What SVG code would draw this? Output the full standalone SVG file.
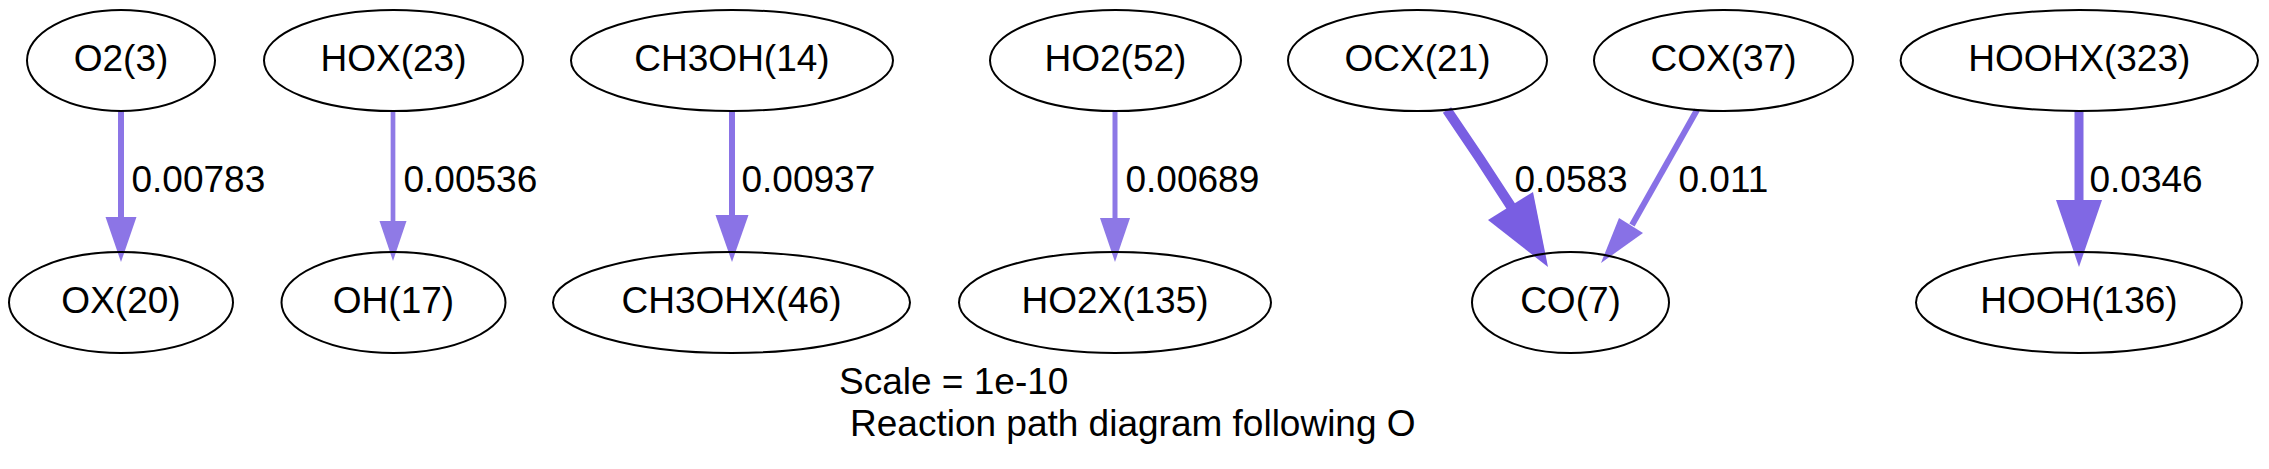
<svg xmlns="http://www.w3.org/2000/svg" width="2269" height="469" viewBox="0 0 2269 469">
<style>
.node ellipse{fill:none;stroke:#000;stroke-width:2}
.node text,.elabel,.title{font-family:"Liberation Sans",Arial,sans-serif;font-size:37px;fill:#000}
.node text{text-anchor:middle}
.edge line,.edge path{fill:none}
</style>
<rect width="2269" height="469" fill="#fff"/>
<g id="connectors">
  <g class="edge" id="e_O2_OX">
    <line x1="121" y1="111" x2="121" y2="219" stroke="#8c75e6" stroke-width="6"/>
    <polygon points="105.5,217 136.5,217 121,262" fill="#8c75e6"/>
  </g>
  <g class="edge" id="e_HOX_OH">
    <line x1="393" y1="111" x2="393" y2="223" stroke="#8f7ae6" stroke-width="4.7"/>
    <polygon points="379.5,221 406.5,221 393,261" fill="#8f7ae6"/>
  </g>
  <g class="edge" id="e_CH3OH_CH3OHX">
    <line x1="732" y1="111" x2="732" y2="217" stroke="#8a73e6" stroke-width="6"/>
    <polygon points="715.5,215 748.5,215 732,262" fill="#8a73e6"/>
  </g>
  <g class="edge" id="e_HO2_HO2X">
    <line x1="1115" y1="111" x2="1115" y2="220" stroke="#8d78e6" stroke-width="5"/>
    <polygon points="1100,218 1130,218 1115,262" fill="#8d78e6"/>
  </g>
  <g class="edge" id="e_OCX_CO">
    <path d="M1447,110 Q1480,158 1512,208" stroke="#795ee2" stroke-width="10"/>
    <polygon points="1488,220 1533,192 1548,267" fill="#795ee2"/>
  </g>
  <g class="edge" id="e_COX_CO">
    <path d="M1697,110 Q1664,168 1632,225" stroke="#8871e6" stroke-width="6"/>
    <polygon points="1619,218 1643,233 1601,263" fill="#8871e6"/>
  </g>
  <g class="edge" id="e_HOOHX_HOOH">
    <line x1="2079" y1="111" x2="2079" y2="202" stroke="#8068e4" stroke-width="9"/>
    <polygon points="2056,200 2102,200 2079,267" fill="#8068e4"/>
  </g>
  <text class="elabel" x="131.5" y="192">0.00783</text>
  <text class="elabel" x="403.5" y="192">0.00536</text>
  <text class="elabel" x="741.5" y="192">0.00937</text>
  <text class="elabel" x="1125.5" y="192">0.00689</text>
  <text class="elabel" x="1514.5" y="192">0.0583</text>
  <text class="elabel" x="1678.5" y="192">0.011</text>
  <text class="elabel" x="2089.5" y="192">0.0346</text>
</g>
<g class="node" id="n_O2"><ellipse cx="121" cy="60.5" rx="94" ry="50.5"/><text x="121" y="71">O2(3)</text></g>
<g class="node" id="n_HOX"><ellipse cx="393.5" cy="60.5" rx="129.5" ry="50.5"/><text x="393.5" y="71">HOX(23)</text></g>
<g class="node" id="n_CH3OH"><ellipse cx="732" cy="60.5" rx="161" ry="50.5"/><text x="732" y="71">CH3OH(14)</text></g>
<g class="node" id="n_HO2"><ellipse cx="1115.5" cy="60.5" rx="125.5" ry="50.5"/><text x="1115.5" y="71">HO2(52)</text></g>
<g class="node" id="n_OCX"><ellipse cx="1417.5" cy="60.5" rx="129.5" ry="50.5"/><text x="1417.5" y="71">OCX(21)</text></g>
<g class="node" id="n_COX"><ellipse cx="1723.5" cy="60.5" rx="129.5" ry="50.5"/><text x="1723.5" y="71">COX(37)</text></g>
<g class="node" id="n_HOOHX"><ellipse cx="2079.3" cy="60.5" rx="178.7" ry="50.5"/><text x="2079.3" y="71">HOOHX(323)</text></g>
<g class="node" id="n_OX"><ellipse cx="121" cy="302.5" rx="112" ry="50.5"/><text x="121" y="313">OX(20)</text></g>
<g class="node" id="n_OH"><ellipse cx="393.5" cy="302.5" rx="112" ry="50.5"/><text x="393.5" y="313">OH(17)</text></g>
<g class="node" id="n_CH3OHX"><ellipse cx="731.5" cy="302.5" rx="178.5" ry="50.5"/><text x="731.5" y="313">CH3OHX(46)</text></g>
<g class="node" id="n_HO2X"><ellipse cx="1115" cy="302.5" rx="156" ry="50.5"/><text x="1115" y="313">HO2X(135)</text></g>
<g class="node" id="n_CO"><ellipse cx="1570.5" cy="302.5" rx="98.5" ry="50.5"/><text x="1570.5" y="313">CO(7)</text></g>
<g class="node" id="n_HOOH"><ellipse cx="2079" cy="302.5" rx="163" ry="50.5"/><text x="2079" y="313">HOOH(136)</text></g>
<g id="title">
  <text class="title" x="839" y="394">Scale = 1e-10</text>
  <text class="title" x="850" y="436">Reaction path diagram following O</text>
</g>
</svg>
